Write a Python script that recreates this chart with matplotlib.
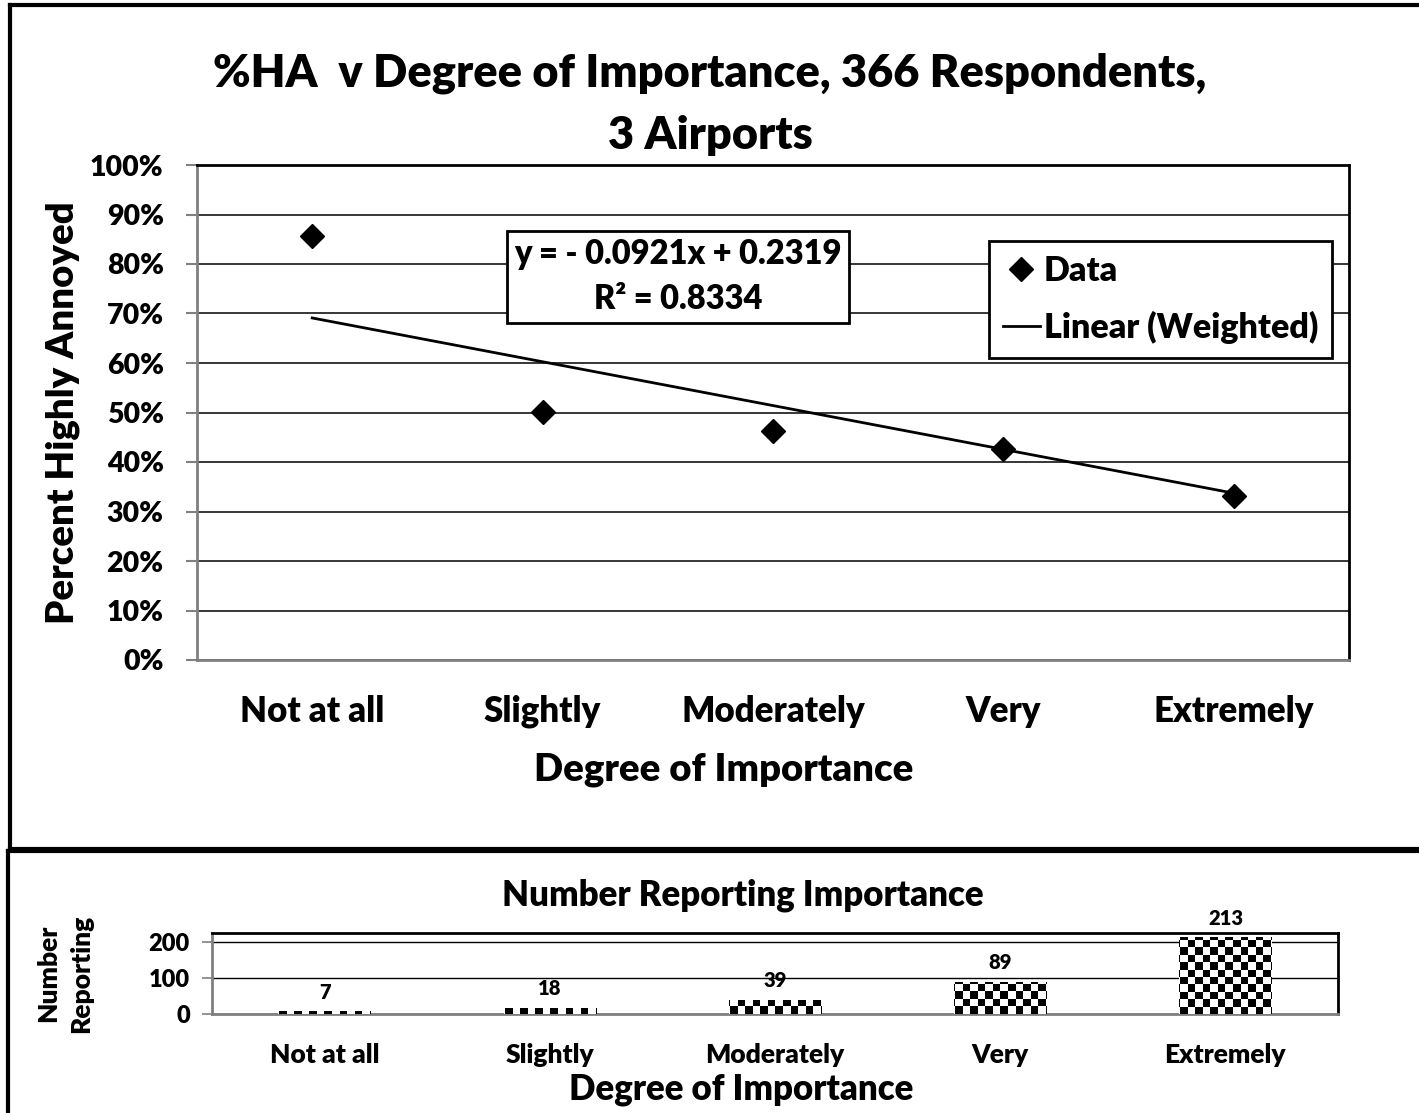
import numpy as np
import matplotlib.pyplot as plt
from matplotlib.lines import Line2D

plt.rcParams['font.family'] = ['Lato', 'DejaVu Sans']
PESO = 'heavy'
plt.rcParams['font.weight'] = PESO

# dados
categorias = ['Not at all', 'Slightly', 'Moderately', 'Very', 'Extremely']
pct_ha = [0.857, 0.501, 0.463, 0.426, 0.331]
trend_x = [1, 5]
trend_y = [0.691, 0.337]
n_reporting = [7, 18, 39, 89, 213]
yticks_pct = np.arange(0, 1.01, 0.1)
yticks_n = [0, 100, 200]

W, H = 1419, 1113
fig = plt.figure(figsize=(W / 100, H / 100), dpi=100)


def fx(px):
    return px / W


def fy(py):
    return 1 - py / H


# molduras dos dois painéis
for xs, ys in [([10, W + 5], [5, 5]), ([10, 10], [5, 849]), ([10, W + 5], [849, 849]),
               ([8, W + 5], [851, 851]), ([8, 8], [851, H + 5])]:
    fig.add_artist(Line2D([fx(x) for x in xs], [fy(y) for y in ys], color='black',
                          lw=3, transform=fig.transFigure, solid_capstyle='projecting'))

# painel superior
ax = fig.add_axes([fx(197), fy(660), fx(1349) - fx(197), fy(165) - fy(660)])
x = np.arange(1, len(categorias) + 1)
ax.plot(x, pct_ha, linestyle='none', marker='D', markersize=12, color='black', label='Data', zorder=3)
ax.plot(trend_x, trend_y, color='black', lw=2, label='Linear (Weighted)', zorder=2)
ax.set_xlim(0.5, 5.5)
ax.set_ylim(0, 1)
ax.set_yticks(yticks_pct)
ax.set_yticklabels([f'{int(round(v * 100))}%' for v in yticks_pct], fontsize=20.5, fontweight=PESO)
ax.set_xticks(x)
ax.set_xticklabels(categorias, fontsize=25, fontweight=PESO)
ax.tick_params(axis='x', length=0, pad=25)
ax.tick_params(axis='y', length=8, color='#808080', width=1.5, pad=16)
ax.yaxis.grid(True, color='black', lw=1.1)
ax.set_axisbelow(True)
for s in ['top', 'right']:
    ax.spines[s].set_color('black')
    ax.spines[s].set_linewidth(2)
for s in ['left', 'bottom']:
    ax.spines[s].set_color('#808080')
    ax.spines[s].set_linewidth(2)
ax.set_ylabel('Percent Highly Annoyed', fontsize=27.5, fontweight=PESO, labelpad=7)
ax.set_xlabel('Degree of Importance', fontsize=27.5, fontweight=PESO)
ax.xaxis.set_label_coords(0.4575, -0.222)
ax.xaxis.label.set_va('center')

ax.text(0.4175, 0.774, 'y = - 0.0921x + 0.2319\nR² = 0.8334', transform=ax.transAxes,
        ha='center', va='center', fontsize=23.5, fontweight=PESO, linespacing=1.5,
        bbox=dict(boxstyle='square,pad=0.22', fc='white', ec='black', lw=2))

leg = ax.legend(loc='upper left', bbox_to_anchor=(0.6875, 0.8465), fontsize=24.5, frameon=True,
                fancybox=False, edgecolor='black', handlelength=1.1, handletextpad=0.12,
                borderpad=0.4, labelspacing=0.72, borderaxespad=0)
leg.get_frame().set_linewidth(2)
leg.get_frame().set_alpha(1)
for t in leg.get_texts():
    t.set_fontweight(PESO)

fig.text(0.5004, fy(73), '%HA  v Degree of Importance, 366 Respondents,', ha='center',
         va='center', fontsize=32.5, fontweight=PESO)
fig.text(0.5004, fy(135), '3 Airports', ha='center', va='center', fontsize=32.5, fontweight=PESO)

# painel inferior
ax2 = fig.add_axes([fx(212), fy(1014), fx(1338) - fx(212), fy(933) - fy(1014)])
bars = ax2.bar(x, n_reporting, width=0.41, color='white', edgecolor='none', zorder=2)
cells_x, cells_y = 150, 11
checker = (np.add.outer(np.arange(cells_y), np.arange(cells_x)) % 2).astype(float)
for b in bars:
    im = ax2.imshow(checker, cmap='gray_r', extent=[0, 1, 0, 1], transform=ax2.transAxes,
                    aspect='auto', interpolation='nearest', zorder=3)
    im.set_clip_path(b)
for xi, v in zip(x, n_reporting):
    ax2.annotate(str(v), (xi, v), xytext=(0, 7), textcoords='offset points', ha='center',
                 va='bottom', fontsize=14.5, fontweight=PESO)
ax2.set_xlim(0.5, 5.5)
ax2.set_ylim(0, 225)
ax2.set_yticks(yticks_n)
ax2.set_yticklabels([str(v) for v in yticks_n], fontsize=17, fontweight=PESO)
ax2.set_xticks(x)
ax2.set_xticklabels(categorias, fontsize=19, fontweight=PESO)
ax2.tick_params(axis='x', length=0, pad=21)
ax2.tick_params(axis='y', length=7, color='#808080', width=1.2, pad=9)
ax2.yaxis.grid(True, color='black', lw=1)
ax2.set_axisbelow(True)
for s in ['top', 'right']:
    ax2.spines[s].set_color('black')
    ax2.spines[s].set_linewidth(2)
for s in ['left', 'bottom']:
    ax2.spines[s].set_color('#808080')
    ax2.spines[s].set_linewidth(2)
ax2.set_title('Number Reporting Importance', fontsize=25, fontweight=PESO, pad=20)
ax2.title.set_x(0.4716)
ax2.set_xlabel('Degree of Importance', fontsize=25, fontweight=PESO)
ax2.xaxis.set_label_coords(0.47, -0.938)
ax2.xaxis.label.set_va('center')
ax2.set_ylabel('Number\nReporting', fontsize=19, fontweight=PESO, labelpad=40, linespacing=1.45)

fig.savefig('out.png', dpi=100, facecolor='white')
